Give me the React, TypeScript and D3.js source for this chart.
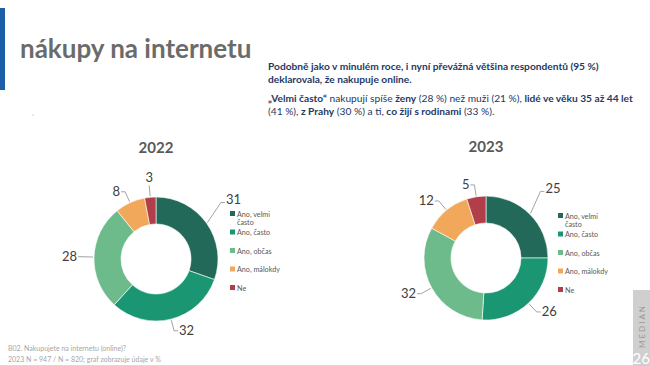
import React from "react";
import * as d3 from "d3";

const categories = ["Ano, velmi často", "Ano, často", "Ano, občas", "Ano, málokdy", "Ne"];
const legendLines = [["Ano, velmi", "často"], ["Ano, často"], ["Ano, občas"], ["Ano, málokdy"], ["Ne"]];
const values2022 = [31, 32, 28, 8, 3];
const values2023 = [25, 26, 32, 12, 5];
const colors = ["#22695A", "#1A9672", "#6DBB8B", "#F2A85B", "#B23E49"];

const FONT = "Lato, 'Open Sans', sans-serif";

type DonutProps = { cx: number; cy: number; values: number[]; title: string; legendX: number; legendY: number };

function Donut({ cx, cy, values, title, legendX, legendY }: DonutProps) {
  const outerR = 62;
  const innerR = 35;
  const pie = d3.pie<number>().sort(null).value((d) => d);
  const arcs = pie(values);
  const arc = d3.arc<d3.PieArcDatum<number>>().innerRadius(innerR).outerRadius(outerR);
  const color = d3.scaleOrdinal<string, string>().domain(categories).range(colors);
  const legendPos = d3.scalePoint<string>().domain(categories).range([legendY, legendY + 74]);

  return (
    <g>
      <text x={cx} y={cy - 106} textAnchor="middle" fontFamily={FONT} fontWeight="bold" fontSize={15} fill="#595959">
        {title}
      </text>
      <g transform={`translate(${cx},${cy})`}>
        {arcs.map((a, i) => (
          <path key={i} d={arc(a) || ""} fill={color(categories[i])} stroke="#fff" strokeWidth={0.6} />
        ))}
        {arcs.map((a, i) => {
          const mid = (a.startAngle + a.endAngle) / 2;
          // the first label is pulled up and out so it clears the legend
          const endA = i === 0 ? mid - 0.1 : mid;
          const endR = i === 0 ? 86 : 74;
          const sx = Math.sin(mid) * (outerR + 1);
          const sy = -Math.cos(mid) * (outerR + 1);
          const ex = Math.sin(endA) * endR;
          const ey = -Math.cos(endA) * endR;
          const right = Math.sin(endA) > 0.15;
          const left = Math.sin(endA) < -0.15;
          const hx = right ? ex + 4 : left ? ex - 4 : ex;
          return (
            <g key={"l" + i}>
              <polyline points={`${sx},${sy} ${ex},${ey} ${hx},${ey}`} fill="none" stroke="#8c8c8c" strokeWidth={0.8} />
              <text
                x={right ? hx + 1 : left ? hx - 1 : ex}
                y={right || left ? ey + (i === 0 ? 1.5 : 4.5) : ey - 3}
                textAnchor={right ? "start" : left ? "end" : "middle"}
                fontFamily={FONT}
                fontSize={13}
                fill="#404040"
              >
                {values[i]}
              </text>
            </g>
          );
        })}
      </g>
      {categories.map((c, i) => {
        const y = legendPos(c) as number;
        return (
          <g key={c}>
            <rect x={legendX} y={y - 3} width={5} height={5} fill={color(c)} />
            {legendLines[i].map((t, j) => (
              <text key={j} x={legendX + 7} y={y + 2.5 + j * 8} fontFamily={FONT} fontSize={7.2} fill="#595959">
                {t}
              </text>
            ))}
          </g>
        );
      })}
    </g>
  );
}

export default function App() {
  const navy = "#1F3864";
  return (
    <svg width={650} height={366} style={{ position: "absolute", left: 0, top: 0, background: "#fff" }}>
      <rect x={0} y={8} width={5} height={82} fill="#1C5EA8" />
      <text x={20} y={58} fontFamily={FONT} fontWeight="bold" fontSize={26} fill="#6b6b6b">
        nákupy na internetu
      </text>
      <circle cx={33} cy={115} r={0.6} fill="#999" />

      <g fontFamily={FONT} fontSize={10.2} fill={navy}>
        <text x={268} y={70} fontWeight="bold">
          Podobně jako v minulém roce, i nyní převážná většina respondentů (95 %)
        </text>
        <text x={268} y={83} fontWeight="bold">
          deklarovala, že nakupuje online.
        </text>
        <text x={268} y={102}>
          <tspan fontWeight="bold">„Velmi často“</tspan> nakupují spíše <tspan fontWeight="bold">ženy</tspan> (28 %) než muži (21 %),{" "}
          <tspan fontWeight="bold">lidé ve věku 35 až 44 let</tspan>
        </text>
        <text x={268} y={114.5}>
          (41 %), <tspan fontWeight="bold">z Prahy</tspan> (30 %) a ti, <tspan fontWeight="bold">co žijí s rodinami</tspan> (33 %).
        </text>
      </g>

      <Donut cx={156} cy={259} values={values2022} title="2022" legendX={230} legendY={214} />
      <Donut cx={486} cy={258} values={values2023} title="2023" legendX={558} legendY={216} />

      <g fontFamily={FONT} fontSize={7} fill="#a6a6a6">
        <text x={8} y={351}>B02. Nakupujete na internetu (online)?</text>
        <text x={8} y={362}>2023 N = 947 / N = 820; graf zobrazuje údaje v %</text>
      </g>
      <line x1={0} x2={650} y1={365.5} y2={365.5} stroke="#d9d9d9" strokeWidth={1} />

      <rect x={633} y={290} width={17} height={76} fill="#cfcfcf" />
      <text
        transform="translate(645,326) rotate(-90)"
        textAnchor="middle"
        fontFamily={FONT}
        fontSize={8}
        letterSpacing={2}
        fill="#9a9a9a"
      >
        MEDIAN
      </text>
      <text x={650} y={364} textAnchor="end" fontFamily={FONT} fontSize={15} fill="#ffffff">
        26
      </text>
    </svg>
  );
}
